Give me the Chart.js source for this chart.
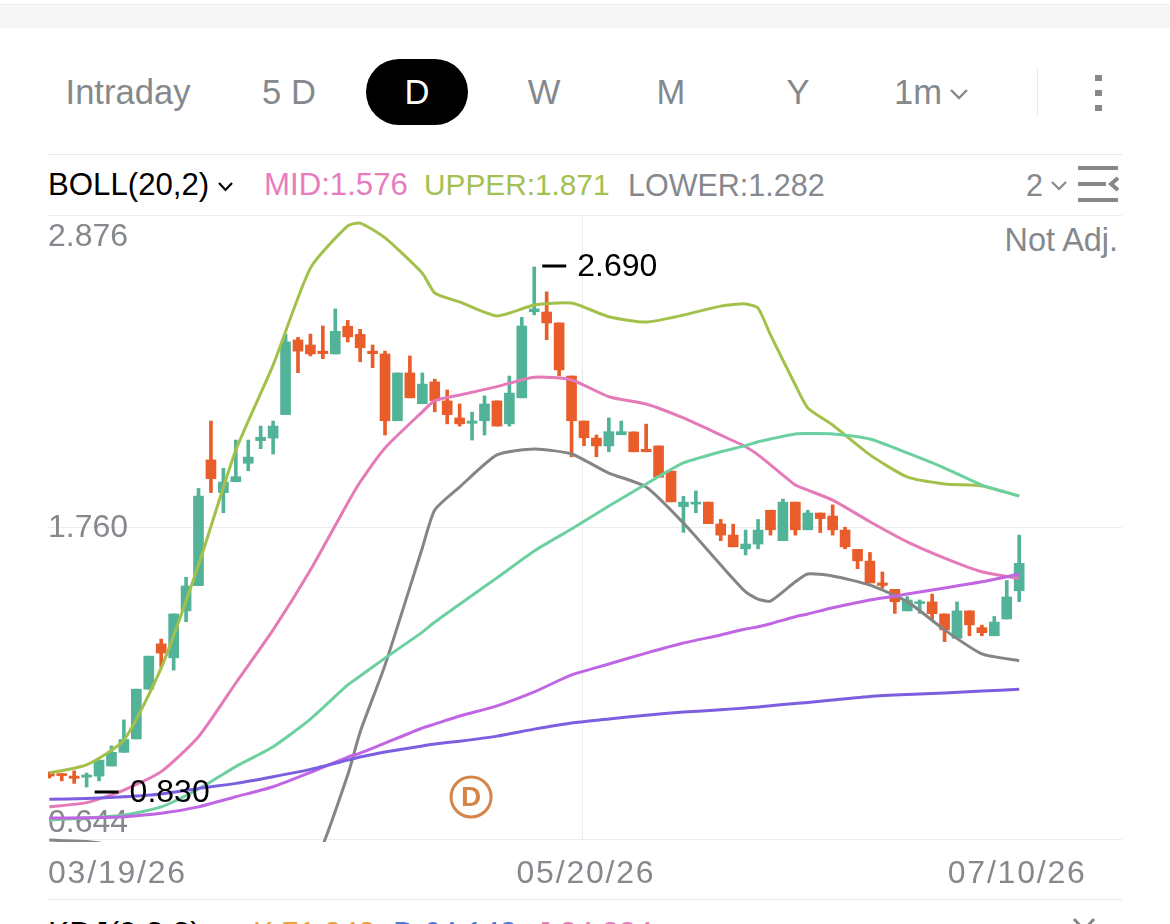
<!DOCTYPE html>
<html>
<head>
<meta charset="utf-8">
<title>BOLL(20,2)</title>
<script src="https://cdn.jsdelivr.net/npm/chart.js@4"></script>
<style>
  html, body { margin: 0; padding: 0; background: #fff; }
  #page { position: relative; width: 1170px; height: 924px; overflow: hidden; font-family: "Liberation Sans", Arial, sans-serif; color: #85898d; }
  #page canvas { position: absolute; left: 0; top: 0; }
  .band { position: absolute; left: 0; top: 4px; width: 1170px; height: 24px; background: #f6f6f6; border-top: 1px solid #ececec; box-sizing: border-box; }
  .rule { position: absolute; left: 48px; width: 1074px; height: 1px; background: #e9e9e9; }
  .txt { position: absolute; white-space: nowrap; line-height: 40px; height: 40px; }
  .tab { font-size: 34.6px; top: 72px; transform: translateX(-50%); }
  .pill { position: absolute; left: 366px; top: 59px; width: 102px; height: 66px; border-radius: 33px; background: #000; }
  .leg { font-size: 30.5px; top: 165px; }
  svg { position: absolute; overflow: visible; }
</style>
</head>
<body>
<div id="page">
  <div class="band"></div>
  <div class="pill"></div>
  <span class="txt tab" style="left:128px">Intraday</span>
  <span class="txt tab" style="left:289px">5 D</span>
  <span class="txt tab" style="left:417px;color:#fff">D</span>
  <span class="txt tab" style="left:544px">W</span>
  <span class="txt tab" style="left:671px">M</span>
  <span class="txt tab" style="left:798px">Y</span>
  <span class="txt tab" style="left:918px">1m</span>
  <svg style="left:950px;top:88px" width="18" height="12"><polyline points="1,2 9,10 17,2" fill="none" stroke="#85898d" stroke-width="2.4"/></svg>
  <div style="position:absolute;left:1037px;top:68px;width:1px;height:48px;background:#ececec"></div>
  <svg style="left:1095px;top:75px" width="8" height="36"><rect width="7" height="6" x="0" y="0" fill="#85898d"/><rect width="7" height="6" x="0" y="15" fill="#85898d"/><rect width="7" height="6" x="0" y="30" fill="#85898d"/></svg>

  <div class="rule" style="top:154px"></div>
  <span class="txt leg" style="left:48px;color:#000;font-size:31.2px">BOLL(20,2)</span>
  <svg style="left:218px;top:182px" width="15" height="10"><polyline points="1,1 7.5,8 14,1" fill="none" stroke="#000" stroke-width="2.2"/></svg>
  <span class="txt leg" style="left:264px;color:#e77dbd;font-size:31.2px">MID:1.576</span>
  <span class="txt leg" style="left:424px;color:#a3c152;font-size:29.8px">UPPER:1.871</span>
  <span class="txt leg" style="left:628px">LOWER:1.282</span>
  <span class="txt leg" style="left:1026px">2</span>
  <svg style="left:1051px;top:181px" width="16" height="10"><polyline points="1,1 8,8 15,1" fill="none" stroke="#85898d" stroke-width="2.2"/></svg>
  <svg style="left:1078px;top:166px" width="40" height="36">
    <rect x="0" y="0" width="40" height="4" fill="#85898d"/>
    <rect x="0" y="16" width="28" height="4" fill="#85898d"/>
    <rect x="0" y="32" width="40" height="4" fill="#85898d"/>
    <polyline points="40,12 33,18 40,24" fill="none" stroke="#85898d" stroke-width="4"/>
  </svg>
  <span class="txt" style="right:52px;top:220px;font-size:32.4px">Not Adj.</span>

  <div class="rule" style="top:899px"></div>
  <span class="txt" style="left:48px;top:913px;font-size:32px;color:#000">KDJ(9,3,3)</span>
  <span class="txt" style="left:253px;top:913px;font-size:30.5px;color:#eea33a">K:71.348</span>
  <span class="txt" style="left:393px;top:913px;font-size:30.5px;color:#4f78dd">D:64.148</span>
  <span class="txt" style="left:536px;top:913px;font-size:30.5px;color:#e77dbd">J:84.884</span>
  <svg style="left:1072px;top:918px" width="24" height="14"><polyline points="2,1 12,12 22,1" fill="none" stroke="#85898d" stroke-width="3"/></svg>

  <canvas id="priceChart" width="1170" height="924"></canvas>
</div>

<script>
// Daily candles, oldest first
const dates = [
  '03/19/26','03/20/26','03/23/26','03/24/26','03/25/26','03/26/26','03/27/26','03/30/26','03/31/26','04/01/26',
  '04/02/26','04/06/26','04/07/26','04/08/26','04/09/26','04/10/26','04/13/26','04/14/26','04/15/26','04/16/26',
  '04/17/26','04/20/26','04/21/26','04/22/26','04/23/26','04/24/26','04/27/26','04/28/26','04/29/26','04/30/26',
  '05/01/26','05/04/26','05/05/26','05/06/26','05/07/26','05/08/26','05/11/26','05/12/26','05/13/26','05/14/26',
  '05/15/26','05/18/26','05/19/26','05/20/26','05/21/26','05/22/26','05/26/26','05/27/26','05/28/26','05/29/26',
  '06/01/26','06/02/26','06/03/26','06/04/26','06/05/26','06/08/26','06/09/26','06/10/26','06/11/26','06/12/26',
  '06/15/26','06/16/26','06/17/26','06/18/26','06/19/26','06/22/26','06/23/26','06/24/26','06/25/26','06/26/26',
  '06/29/26','06/30/26','07/01/26','07/02/26','07/03/26','07/07/26','07/08/26','07/09/26','07/10/26'
];
const opens = [
  0.879,0.878,0.869,0.865,0.869,0.905,0.954,1.002,1.180,1.342,
  1.292,1.460,1.550,2.000,1.883,1.922,1.988,2.069,2.078,2.162,
  2.429,2.411,2.389,2.379,2.478,2.449,2.389,2.379,2.140,2.311,
  2.201,2.279,2.211,2.150,2.131,2.140,2.211,2.129,2.222,2.530,
  2.529,2.490,2.300,2.139,2.078,2.050,2.090,2.100,2.038,2.050,
  1.960,1.833,1.842,1.849,1.771,1.731,1.682,1.699,1.820,1.711,
  1.849,1.750,1.810,1.799,1.749,1.680,1.638,1.560,1.537,1.460,
  1.486,1.492,1.449,1.362,1.460,1.400,1.371,1.431,1.532
];
const closes = [
  0.869,0.871,0.861,0.873,0.926,0.954,1.000,1.180,1.298,1.309,
  1.449,1.549,1.871,1.933,1.921,1.940,2.010,2.081,2.121,2.422,
  2.389,2.379,2.380,2.460,2.440,2.401,2.380,2.140,2.311,2.222,
  2.271,2.212,2.162,2.129,2.139,2.200,2.121,2.239,2.479,2.540,
  2.490,2.322,2.140,2.079,2.050,2.101,2.101,2.029,2.029,1.938,
  1.850,1.849,1.849,1.772,1.731,1.689,1.699,1.749,1.750,1.849,
  1.750,1.810,1.790,1.750,1.689,1.639,1.560,1.551,1.493,1.499,
  1.493,1.450,1.392,1.460,1.410,1.382,1.420,1.510,1.630
];
const highs = [
  0.884,0.878,0.888,0.880,0.926,0.977,1.070,1.180,1.298,1.359,
  1.449,1.580,1.898,2.139,1.970,2.071,2.071,2.121,2.139,2.449,
  2.438,2.450,2.479,2.540,2.499,2.467,2.411,2.389,2.311,2.372,
  2.311,2.289,2.250,2.200,2.171,2.229,2.211,2.300,2.510,2.690,
  2.601,2.490,2.300,2.139,2.089,2.150,2.139,2.100,2.128,2.050,
  1.960,1.870,1.889,1.849,1.787,1.770,1.749,1.787,1.820,1.860,
  1.849,1.820,1.810,1.839,1.759,1.680,1.669,1.599,1.537,1.511,
  1.499,1.520,1.449,1.492,1.460,1.409,1.440,1.569,1.731
];
const lows = [
  0.862,0.852,0.843,0.830,0.852,0.905,0.954,1.002,1.180,1.260,
  1.248,1.421,1.550,1.883,1.811,1.922,1.961,2.040,2.021,2.162,
  2.312,2.372,2.362,2.379,2.422,2.351,2.330,2.089,2.140,2.222,
  2.201,2.172,2.129,2.121,2.071,2.089,2.121,2.121,2.222,2.519,
  2.430,2.300,2.011,2.051,2.011,2.029,2.090,2.029,2.029,1.938,
  1.850,1.741,1.811,1.772,1.711,1.689,1.660,1.682,1.731,1.711,
  1.731,1.750,1.740,1.731,1.682,1.611,1.560,1.541,1.451,1.460,
  1.451,1.430,1.350,1.362,1.371,1.371,1.371,1.431,1.493
];

// Overlay studies, read at these sessions
const overlaySlots = [0,3,6,9,12,15,18,21,24,25,27,30,31,33,36,39,42,45,48,51,54,56,57,58,60,61,63,66,69,72,75,78];
const bollUpper = [0.880,0.909,0.998,1.256,1.624,2.035,2.339,2.686,2.837,2.847,2.794,2.668,2.597,2.565,2.515,2.554,2.561,2.512,2.493,2.518,2.550,2.558,2.543,2.447,2.268,2.186,2.125,2.018,1.939,1.914,1.907,1.871];
const bollMid = [0.759,0.774,0.819,0.885,1.010,1.202,1.392,1.606,1.846,1.921,2.043,2.172,2.212,2.232,2.262,2.296,2.286,2.226,2.200,2.150,2.089,2.047,2.018,1.982,1.910,1.892,1.856,1.779,1.707,1.649,1.600,1.576];
const bollLower = [0.640,0.635,0.612,0.515,0.397,0.368,0.444,0.522,0.873,1.027,1.266,1.685,1.821,1.903,2.018,2.039,2.021,1.953,1.903,1.774,1.624,1.528,1.502,1.495,1.564,1.592,1.585,1.552,1.493,1.392,1.306,1.282];
const maGreen = [0.712,0.719,0.730,0.759,0.823,0.903,0.974,1.073,1.195,1.227,1.291,1.384,1.420,1.484,1.578,1.674,1.753,1.835,1.914,1.989,2.029,2.051,2.065,2.075,2.093,2.094,2.093,2.075,2.025,1.971,1.910,1.871];
const maPurple = [0.719,0.720,0.724,0.736,0.759,0.795,0.831,0.882,0.937,0.951,0.987,1.041,1.055,1.084,1.120,1.170,1.231,1.270,1.309,1.345,1.374,1.395,1.403,1.414,1.439,1.449,1.471,1.499,1.520,1.542,1.564,1.592];
const maBlue = [0.786,0.789,0.795,0.805,0.825,0.843,0.867,0.893,0.926,0.937,0.955,0.977,0.984,0.994,1.012,1.037,1.059,1.073,1.087,1.098,1.106,1.113,1.116,1.121,1.129,1.132,1.141,1.154,1.161,1.166,1.173,1.180];

const priceTicks = [2.876, 1.760, 0.644];
const dateTickSlots = [0, 43, 78];
const dividendSlot = 34;
const highSlot = 39;
const lowSlot = 3;

const UP = '#53b398';
const DOWN = '#e85d29';
const GREY = '#85898d';
const TEXT_FONT = '"Liberation Sans", Arial, sans-serif';

const candleColors = opens.map((o, i) => closes[i] >= o ? UP : DOWN);

function overlay(values, color) {
    return {
        type: 'line',
        data: values.map((v, i) => ({ x: overlaySlots[i], y: v })),
        borderColor: color,
        borderWidth: 3,
        pointRadius: 0,
        tension: 0.2,
        order: 1,
        clip: { left: 0, top: 0, right: 0, bottom: 3 }
    };
}

// Axis text sits inside the plot and goes under the lines
const axisText = {
    id: 'axisText',
    beforeDatasetsDraw(chart) {
        const ctx = chart.ctx;
        const y = chart.scales.y;
        const shift = [22, 1, -16];
        ctx.save();
        ctx.fillStyle = GREY;
        ctx.font = '32px ' + TEXT_FONT;
        ctx.textBaseline = 'middle';
        ctx.textAlign = 'left';
        priceTicks.forEach((p, i) => {
            ctx.fillText(p.toFixed(3), chart.chartArea.left, y.getPixelForValue(p) + shift[i]);
        });
        ctx.restore();
    }
};

// Date labels, high/low tags and the dividend badge
const chartNotes = {
    id: 'chartNotes',
    afterDatasetsDraw(chart) {
        const ctx = chart.ctx;
        const x = chart.scales.x;
        const y = chart.scales.y;
        ctx.save();

        ctx.fillStyle = GREY;
        ctx.font = '32px ' + TEXT_FONT;
        ctx.letterSpacing = '1.8px';
        ctx.textBaseline = 'middle';
        const dateAlign = ['left', 'center', 'center'];
        const dateNudge = [0, 2, -2];
        dateTickSlots.forEach((slot, i) => {
            ctx.textAlign = dateAlign[i];
            const px = i === 0 ? chart.chartArea.left : x.getPixelForValue(slot);
            ctx.fillText(dates[slot], px + dateNudge[i], chart.chartArea.bottom + 35);
        });
        ctx.letterSpacing = '0px';

        ctx.fillStyle = '#000';
        ctx.textAlign = 'left';
        const tag = (slot, price, dy) => {
            const px = x.getPixelForValue(slot) + 8;
            const py = y.getPixelForValue(price) + dy;
            ctx.fillRect(px, py - 1.5, 24, 3);
            ctx.fillText(price.toFixed(3), px + 35, py + 1);
        };
        tag(highSlot, highs[highSlot], -1);
        tag(lowSlot, lows[lowSlot], 5);

        const bx = x.getPixelForValue(dividendSlot) - 1;
        const by = 797;
        ctx.strokeStyle = '#d4864a';
        ctx.lineWidth = 3;
        ctx.beginPath();
        ctx.arc(bx, by, 20, 0, Math.PI * 2);
        ctx.stroke();
        ctx.fillStyle = '#d4864a';
        ctx.font = 'bold 28px ' + TEXT_FONT;
        ctx.textAlign = 'center';
        ctx.fillText('D', bx, by + 1);
        ctx.restore();
    }
};

new Chart(document.getElementById('priceChart'), {
    type: 'bar',
    data: {
        datasets: [
            overlay(maBlue, '#7b5fe0'),
            overlay(maPurple, '#c066e4'),
            overlay(maGreen, '#6dd0a0'),
            overlay(bollLower, '#858585'),
            overlay(bollMid, '#e57ab8'),
            overlay(bollUpper, '#a3c14a'),
            {
                data: opens.map((o, i) => ({ x: i, y: [o, closes[i]] })),
                backgroundColor: candleColors,
                barThickness: 10,
                grouped: false,
                borderSkipped: false,
                order: 2,
                clip: 0
            },
            {
                data: lows.map((l, i) => ({ x: i, y: [l, highs[i]] })),
                backgroundColor: candleColors,
                barThickness: 3,
                grouped: false,
                borderSkipped: false,
                order: 3,
                clip: 0
            }
        ]
    },
    options: {
        responsive: false,
        animation: false,
        events: [],
        layout: { padding: { left: 48, right: 48, top: 215, bottom: 85 } },
        plugins: { legend: { display: false }, tooltip: { enabled: false } },
        scales: {
            x: {
                type: 'linear',
                offset: false,
                min: -0.105,
                max: 86.27,
                grid: { color: '#ededed', drawTicks: false, offset: false },
                border: { display: false },
                ticks: { display: false },
                afterBuildTicks: axis => { axis.ticks = [{ value: 42.87 }]; }
            },
            y: {
                min: 0.644,
                max: 2.876,
                grid: { color: '#ededed', drawTicks: false },
                border: { display: false },
                ticks: { display: false },
                afterBuildTicks: axis => { axis.ticks = priceTicks.map(v => ({ value: v })); }
            }
        }
    },
    plugins: [axisText, chartNotes]
});
</script>
</body>
</html>
